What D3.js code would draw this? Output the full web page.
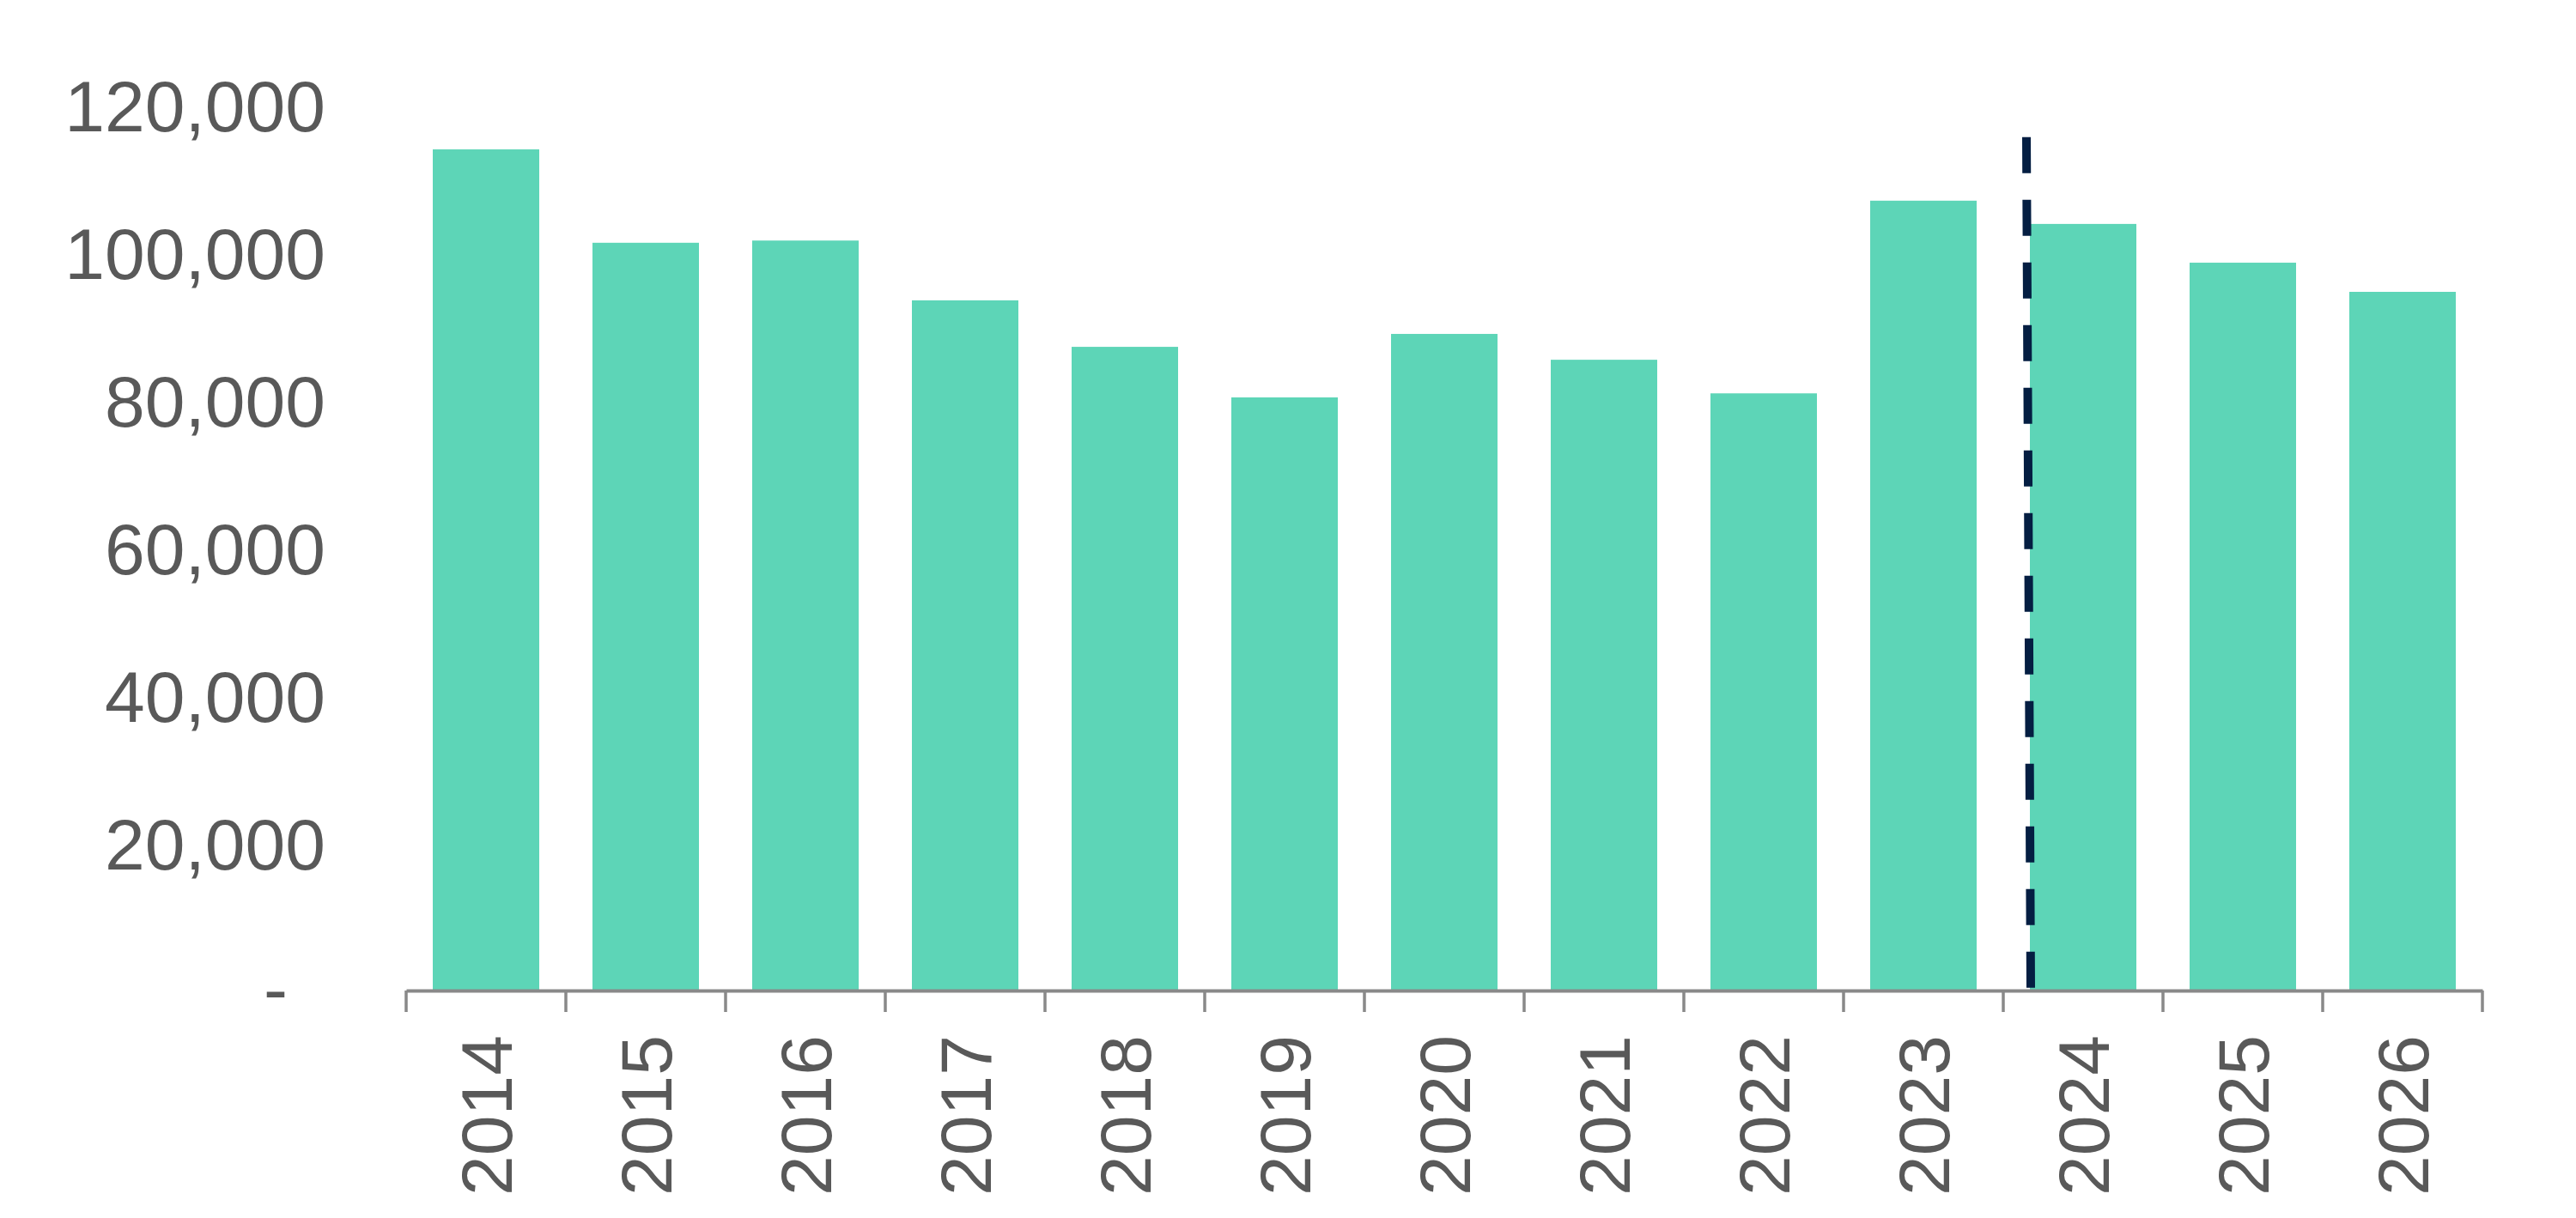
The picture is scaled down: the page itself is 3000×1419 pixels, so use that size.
<!DOCTYPE html>
<html>
<head>
<meta charset="utf-8">
<script src="https://cdn.jsdelivr.net/npm/d3@7"></script>
<style>
  html, body { margin: 0; padding: 0; background: #ffffff; }
  svg { display: block; }
</style>
</head>
<body>
<svg id="chart" width="3000" height="1419"></svg>
<script>
const categories = ["2014","2015","2016","2017","2018","2019","2020","2021","2022","2023","2024","2025","2026"];
const values = [113950, 101300, 101600, 93500, 87200, 80350, 88950, 85450, 80900, 107000, 103850, 98600, 94650];
const yTicks = [0, 20000, 40000, 60000, 80000, 100000, 120000];
const dividerCategory = "2024";
const dividerTopValue = 115600;

const svg = d3.select("#chart");
const fontFamily = "'Liberation Sans', Arial, sans-serif";
const textColor = "#595959";

const x = d3.scaleBand()
  .domain(categories)
  .range([473, 2891])
  .paddingInner(1/3)
  .paddingOuter(1/6);

const y = d3.scaleLinear()
  .domain([0, 120000])
  .range([1154, 122]);

// Bars
svg.append("g")
  .selectAll("rect")
  .data(categories)
  .join("rect")
  .attr("x", d => x(d))
  .attr("width", x.bandwidth())
  .attr("y", (d, i) => y(values[i]))
  .attr("height", (d, i) => y(0) - y(values[i]))
  .attr("fill", "#5DD5B7");

// Y axis labels
const yAxis = d3.axisLeft(y)
  .tickValues(yTicks)
  .tickSize(0)
  .tickPadding(0)
  .tickFormat(d => d === 0 ? "-" : d3.format(",")(d));

const gy = svg.append("g")
  .attr("transform", "translate(379,0)")
  .call(yAxis);
gy.select(".domain").remove();
gy.selectAll("text")
  .attr("dy", "0.358em")
  .style("font-family", fontFamily)
  .style("font-size", "84px")
  .attr("fill", textColor);
gy.selectAll("text").filter(d => d === 0)
  .attr("x", -44)
  .attr("dy", "0.32em");

// X axis
const xAxis = d3.axisBottom(x).tickSize(0).tickSizeOuter(0);
const gx = svg.append("g")
  .attr("transform", `translate(0,${y(0)})`)
  .call(xAxis);
gx.select(".domain")
  .attr("stroke", "#898989")
  .attr("stroke-width", 4);
gx.selectAll("text")
  .attr("y", 0)
  .attr("x", -52)
  .attr("dy", "0.358em")
  .attr("transform", "rotate(-90)")
  .style("text-anchor", "end")
  .style("font-family", fontFamily)
  .style("font-size", "84px")
  .attr("fill", textColor);

// Tick marks at category boundaries
const boundaries = categories.map(d => x(d) - x.paddingOuter() * x.step());
boundaries.push(x(categories[categories.length - 1]) + x.bandwidth() + x.paddingOuter() * x.step());
gx.selectAll("line.boundary")
  .data(boundaries)
  .join("line")
  .attr("class", "boundary")
  .attr("x1", d => d)
  .attr("x2", d => d)
  .attr("y1", 0)
  .attr("y2", 25)
  .attr("stroke", "#898989")
  .attr("stroke-width", 3.5);

// Dashed divider line
svg.append("line")
  .attr("x1", x(dividerCategory) - 4)
  .attr("x2", x(dividerCategory) + 1)
  .attr("y1", y(dividerTopValue))
  .attr("y2", y(0) - 3)
  .attr("stroke", "#041E42")
  .attr("stroke-width", 10)
  .attr("stroke-dasharray", "42,31");
</script>
</body>
</html>
